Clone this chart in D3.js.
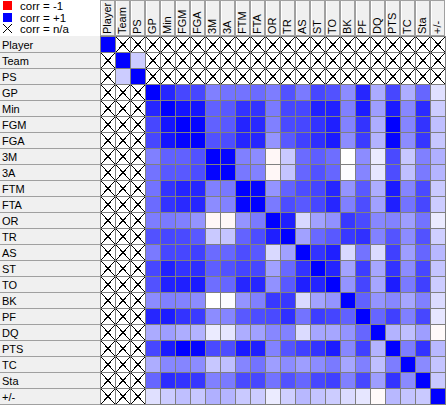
<!DOCTYPE html>
<html>
<head>
<meta charset="utf-8">
<script src="https://cdn.jsdelivr.net/npm/d3@7"></script>
<style>
  body { margin: 0; background: #fff; }
  text { font-family: "Liberation Sans", Arial, sans-serif; }
</style>
</head>
<body>
<div id="matrix"></div>
<script>
// variable names (rows and columns are the same list)
let labels = ["Player", "Team", "PS", "GP", "Min", "FGM", "FGA", "3M", "3A", "FTM", "FTA",
  "OR", "TR", "AS", "ST", "TO", "BK", "PF", "DQ", "PTS", "TC", "Sta", "+/-"];

// lower triangle of the correlation matrix, null = n/a
let corrRows = [
  [1],
  [null, 1],
  [null, 0.2, 1],
  [null, null, null, 1],
  [null, null, null, 0.85, 1],
  [null, null, null, 0.72, 0.92, 1],
  [null, null, null, 0.72, 0.92, 0.98, 1],
  [null, null, null, 0.5, 0.62, 0.62, 0.68, 1],
  [null, null, null, 0.55, 0.65, 0.65, 0.7, 0.98, 1],
  [null, null, null, 0.55, 0.8, 0.86, 0.85, 0.5, 0.53, 1],
  [null, null, null, 0.58, 0.8, 0.84, 0.85, 0.45, 0.49, 0.98, 1],
  [null, null, null, 0.51, 0.52, 0.5, 0.42, -0.03, -0.03, 0.42, 0.52, 1],
  [null, null, null, 0.68, 0.72, 0.71, 0.65, 0.21, 0.23, 0.61, 0.7, 0.88, 1],
  [null, null, null, 0.52, 0.72, 0.72, 0.75, 0.58, 0.6, 0.7, 0.65, 0.15, 0.37, 1],
  [null, null, null, 0.72, 0.87, 0.8, 0.82, 0.63, 0.68, 0.73, 0.72, 0.37, 0.59, 0.8, 1],
  [null, null, null, 0.68, 0.87, 0.88, 0.9, 0.57, 0.6, 0.85, 0.85, 0.43, 0.65, 0.88, 0.86, 1],
  [null, null, null, 0.45, 0.5, 0.49, 0.45, 0.0, 0.01, 0.42, 0.5, 0.78, 0.78, 0.15, 0.36, 0.42, 1],
  [null, null, null, 0.85, 0.89, 0.8, 0.77, 0.45, 0.48, 0.65, 0.7, 0.71, 0.81, 0.55, 0.76, 0.73, 0.62, 1],
  [null, null, null, 0.33, 0.38, 0.32, 0.3, 0.08, 0.1, 0.32, 0.37, 0.47, 0.49, 0.14, 0.35, 0.35, 0.42, 0.6, 1],
  [null, null, null, 0.72, 0.9, 1.0, 0.98, 0.71, 0.7, 0.9, 0.88, 0.49, 0.67, 0.75, 0.8, 0.89, 0.47, 0.75, 0.3, 1],
  [null, null, null, 0.32, 0.47, 0.48, 0.45, 0.22, 0.25, 0.48, 0.55, 0.38, 0.45, 0.38, 0.45, 0.52, 0.35, 0.5, 0.25, 0.51, 1],
  [null, null, null, 0.6, 0.83, 0.8, 0.79, 0.5, 0.52, 0.71, 0.72, 0.55, 0.68, 0.6, 0.72, 0.75, 0.5, 0.72, 0.38, 0.8, 0.46, 1],
  [null, null, null, 0.12, 0.2, 0.25, 0.22, 0.31, 0.29, 0.21, 0.2, 0.08, 0.19, 0.28, 0.23, 0.2, 0.14, 0.1, -0.02, 0.28, 0.23, 0.21, 1]
];

// legend entries
let legendLabels = ["corr = -1", "corr = +1", "corr = n/a"];
let legendValues = [-1, 1, null];

let svgWidth = 448;
let svgHeight = 407;

let labelW = 100;   // width of row label column
let headerH = 36;   // height of column header row
let cellW = 15;
let cellH = 16;

let svg = d3.select("#matrix")
  .append("svg")
  .attr("width", svgWidth)
  .attr("height", svgHeight);

// scales
let xScale = d3.scaleBand()
  .domain(labels)
  .range([labelW, labelW + cellW * labels.length]);

let yScale = d3.scaleBand()
  .domain(labels)
  .range([headerH, headerH + cellH * labels.length]);

let color = d3.scaleLinear()
  .domain([-1, 0, 1])
  .range(["#ff0000", "#ffffff", "#0000ff"]);

// build full symmetric cell list from lower triangle
let cells = [];
labels.forEach(function(rowName, i) {
  labels.forEach(function(colName, j) {
    let v = i >= j ? corrRows[i][j] : corrRows[j][i];
    cells.push({row: rowName, col: colName, value: v});
  });
});

// row label background
svg.append("rect")
  .attr("x", 0).attr("y", headerH)
  .attr("width", labelW).attr("height", cellH * labels.length)
  .attr("fill", "#f0f0f0");

// column header cells
let header = svg.append("g");
header.selectAll("rect")
  .data(labels)
  .enter()
  .append("rect")
  .attr("x", d => xScale(d) + 0.5)
  .attr("y", 0.5)
  .attr("width", cellW - 1)
  .attr("height", headerH - 1)
  .attr("fill", "#f0f0f0")
  .attr("stroke", "#a0a0a0");

header.selectAll("line")
  .data(labels)
  .enter()
  .append("line")
  .attr("x1", d => xScale(d) + 1.5)
  .attr("x2", d => xScale(d) + 1.5)
  .attr("y1", 1)
  .attr("y2", headerH - 1)
  .attr("stroke", "#ffffff");

header.selectAll("text")
  .data(labels)
  .enter()
  .append("text")
  .attr("transform", d => `translate(${xScale(d) + 11}, 34) rotate(-90)`)
  .attr("font-size", "11px")
  .attr("fill", "#000")
  .text(d => d);

// row labels
svg.append("g").selectAll("text")
  .data(labels)
  .enter()
  .append("text")
  .attr("x", 2)
  .attr("y", d => yScale(d) + 13)
  .attr("font-size", "11px")
  .attr("fill", "#000")
  .text(d => d);

// horizontal separators in the label column
svg.append("g").selectAll("line")
  .data(labels)
  .enter()
  .append("line")
  .attr("x1", 0)
  .attr("x2", labelW)
  .attr("y1", d => yScale(d) + cellH + 0.5)
  .attr("y2", d => yScale(d) + cellH + 0.5)
  .attr("stroke", "#a0a0a0");

// matrix cells
let cellGroup = svg.append("g");
cellGroup.selectAll("rect")
  .data(cells)
  .enter()
  .append("rect")
  .attr("x", d => xScale(d.col) + 0.5)
  .attr("y", d => yScale(d.row) + 0.5)
  .attr("width", cellW)
  .attr("height", cellH)
  .attr("fill", d => d.value === null ? "#ffffff" : color(d.value))
  .attr("stroke", "#808080")
  .attr("shape-rendering", "crispEdges");

// crosses for n/a cells
let naCells = cells.filter(d => d.value === null);
let crosses = cellGroup.selectAll("g.na")
  .data(naCells)
  .enter()
  .append("g")
  .classed("na", true)
  .attr("stroke", "#000")
  .attr("shape-rendering", "crispEdges");

crosses.append("line")
  .attr("x1", d => xScale(d.col) + 1)
  .attr("y1", d => yScale(d.row) + 1)
  .attr("x2", d => xScale(d.col) + cellW)
  .attr("y2", d => yScale(d.row) + cellH);
crosses.append("line")
  .attr("x1", d => xScale(d.col) + cellW)
  .attr("y1", d => yScale(d.row) + 1)
  .attr("x2", d => xScale(d.col) + 1)
  .attr("y2", d => yScale(d.row) + cellH);

// legend
let legend = svg.append("g").selectAll("g")
  .data(legendLabels)
  .enter()
  .append("g")
  .attr("transform", (d, i) => `translate(3, ${1 + i * 11.5})`);

legend.append("rect")
  .attr("width", 9)
  .attr("height", 9)
  .attr("fill", (d, i) => legendValues[i] === null ? "#ffffff" : color(legendValues[i]))
  .attr("shape-rendering", "crispEdges");

// cross symbol for the n/a entry
legend.filter((d, i) => legendValues[i] === null)
  .each(function() {
    let g = d3.select(this);
    g.append("line").attr("x1", 0).attr("y1", 0).attr("x2", 9).attr("y2", 9)
      .attr("stroke", "#000").attr("shape-rendering", "crispEdges");
    g.append("line").attr("x1", 9).attr("y1", 0).attr("x2", 0).attr("y2", 9)
      .attr("stroke", "#000").attr("shape-rendering", "crispEdges");
  });

legend.append("text")
  .attr("x", 17)
  .attr("y", 9)
  .attr("font-size", "11.5px")
  .attr("fill", "#000")
  .text(d => d);
</script>
</body>
</html>
